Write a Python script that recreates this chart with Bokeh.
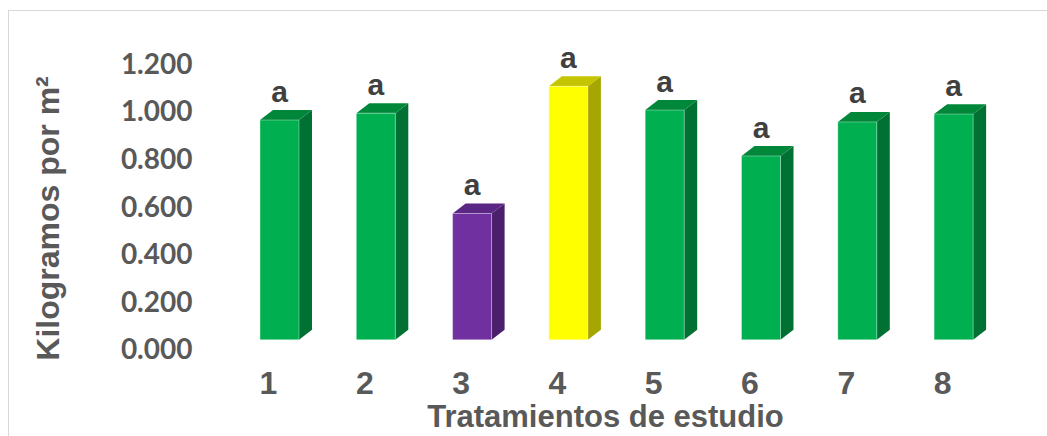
import numpy as np
from bokeh.plotting import figure
from bokeh.models import Range1d, FixedTicker, NumeralTickFormatter
from bokeh.core.properties import value
from bokeh.embed import file_html
from bokeh.resources import INLINE

# ---- data ----
categories = ["1", "2", "3", "4", "5", "6", "7", "8"]
values = [0.924, 0.953, 0.531, 1.066, 0.966, 0.773, 0.916, 0.949]
letters = ["a", "a", "a", "a", "a", "a", "a", "a"]
y_ticks = [0.0, 0.2, 0.4, 0.6, 0.8, 1.0, 1.2]
x_title = "Tratamientos de estudio"
y_title = "Kilogramos por m\u00b2"

# ---- styles ----
front_colors = ["#00B050", "#00B050", "#7030A0", "#FFFF00", "#00B050", "#00B050", "#00B050", "#00B050"]
side_colors = ["#007033", "#007033", "#4B1F6C", "#A6A600", "#007033", "#007033", "#007033", "#007033"]
top_colors = ["#00873A", "#00873A", "#5B2784", "#C4C400", "#00873A", "#00873A", "#00873A", "#00873A"]

W, H = 1047, 436
FL, FR, FT, FB = 200, 1010, 40, 398        # frame edges (px)
PX_Y = 239.2                                # px per unit on y
PX_X = 96.3                                 # px per category
ZERO_PX = 350                               # pixel row of 0.000
FIRST_PX = 268                              # pixel column of first category

y0 = (ZERO_PX - FB) / PX_Y
y1 = (ZERO_PX - FT) / PX_Y
x0 = 1 - (FIRST_PX - FL) / PX_X
x1 = 1 + (FR - FIRST_PX) / PX_X

# 3D geometry (px -> data)
dx = 13 / PX_X
dy = 10 / PX_Y
fshift = 11 / PX_X        # bar front set back to the right
b0 = 9 / PX_Y             # bar front bottom set back upward
half = 19.5 / PX_X

idx = np.arange(1, len(categories) + 1)
vals = np.array(values)
xc = idx + fshift
xl = xc - half
xr = xc + half
tops = b0 + vals

border_css = ("linear-gradient(#D9D9D9,#D9D9D9) 8px 10px / calc(100% - 8px) 1px no-repeat, "
              "linear-gradient(#D9D9D9,#D9D9D9) 8px 10px / 1px calc(100% - 10px) no-repeat, white")

p = figure(width=W, height=H, x_range=Range1d(x0, x1), y_range=Range1d(y0, y1),
           output_backend="svg", toolbar_location=None,
           min_border_left=FL, min_border_right=W - FR, min_border_top=FT, min_border_bottom=H - FB,
           styles={"background": border_css})
p.grid.visible = False
p.outline_line_color = None
p.background_fill_alpha = 0
p.border_fill_alpha = 0

# side faces
side_xs = [[r, r + dx, r + dx, r] for r in xr]
side_ys = [[b0, b0 + dy, t + dy, t] for t in tops]
p.patches(side_xs, side_ys, fill_color=side_colors, line_color=None)
# top faces
top_xs = [[l, l + dx, r + dx, r] for l, r in zip(xl, xr)]
top_ys = [[t, t + dy, t + dy, t] for t in tops]
p.patches(top_xs, top_ys, fill_color=top_colors, line_color=None)
# front faces
p.vbar(x=xc, width=2 * half, bottom=b0, top=tops, fill_color=front_colors,
       line_color="white", line_alpha=0.35, line_width=1)

# letters
p.text(x=xc, y=tops + dy, text=letters, text_align="center", text_baseline="alphabetic",
       y_offset=-19, text_font=value("Liberation Sans"), text_font_style="bold",
       text_font_size="30px", text_color="#404040")

# axes
xa = p.xaxis[0]
xa.ticker = FixedTicker(ticks=list(idx))
xa.major_label_overrides = {int(i): c for i, c in zip(idx, categories)}
xa.axis_line_color = None
xa.major_tick_line_color = None
xa.minor_tick_line_color = None
xa.major_tick_out = 0
xa.major_label_standoff = -25
xa.major_label_text_font = "Liberation Sans"
xa.major_label_text_font_style = "bold"
xa.major_label_text_font_size = "32px"
xa.major_label_text_color = "#595959"
xa.axis_label = x_title
xa.axis_label_standoff = 2
xa.axis_label_text_font = "Liberation Sans"
xa.axis_label_text_font_style = "bold"
xa.axis_label_text_font_size = "31px"
xa.axis_label_text_color = "#595959"

ya = p.yaxis[0]
ya.ticker = FixedTicker(ticks=y_ticks)
ya.formatter = NumeralTickFormatter(format="0.000")
ya.axis_line_color = None
ya.major_tick_line_color = None
ya.minor_tick_line_color = None
ya.major_tick_out = 0
ya.major_label_standoff = 8
ya.major_label_text_font = "Lato"
ya.major_label_text_font_style = "bold"
ya.major_label_text_font_size = "28px"
ya.major_label_text_color = "#595959"
ya.axis_label = y_title
ya.axis_label_standoff = 52
ya.axis_label_text_font = "Liberation Sans"
ya.axis_label_text_font_style = "bold"
ya.axis_label_text_font_size = "32px"
ya.axis_label_text_color = "#595959"

open("out.html", "w").write(file_html(p, INLINE))
